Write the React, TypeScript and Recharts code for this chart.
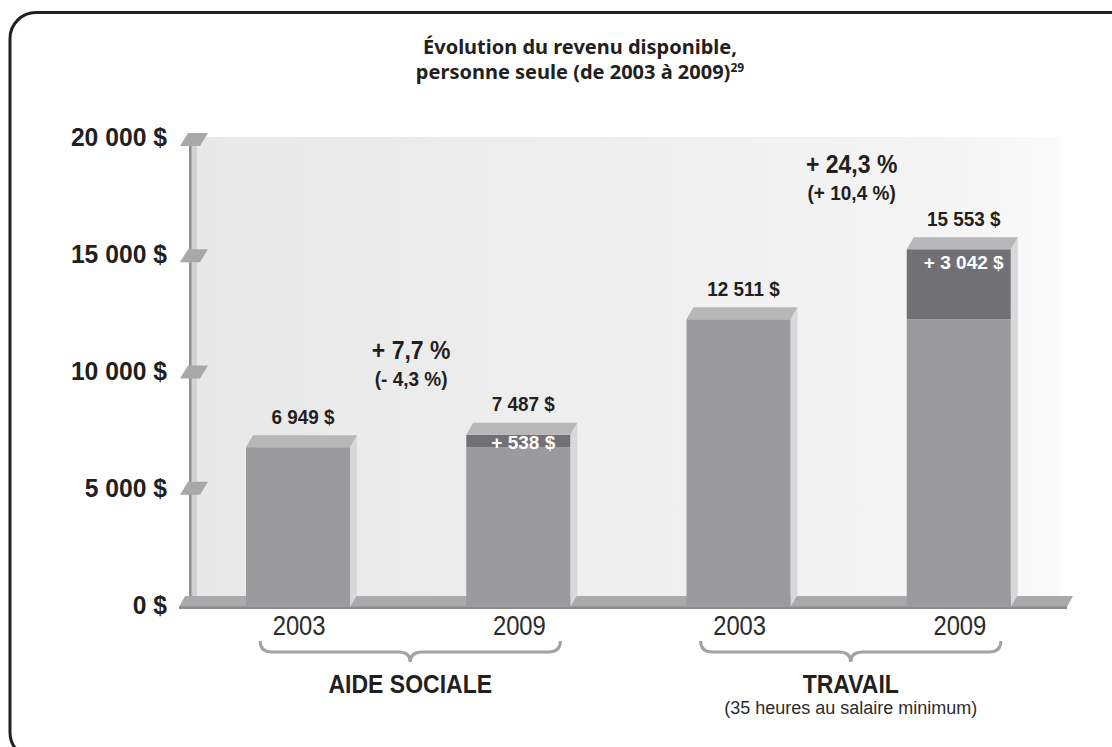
import React from "react";
import { BarChart, Bar, XAxis, YAxis, LabelList } from "recharts";

const categories = ["2003", "2009", "2003", "2009"];
const groupNames = ["AIDE SOCIALE", "TRAVAIL"];
const groupNotes = ["", "(35 heures au salaire minimum)"];
const baseValues = [6949, 6949, 12511, 12511];
const increaseValues = [0, 538, 0, 3042];
const nominalChanges = ["", "+ 7,7 %", "", "+ 24,3 %"];
const realChanges = ["", "(- 4,3 %)", "", "(+ 10,4 %)"];
const yTicks = [0, 5000, 10000, 15000, 20000];

const data = categories.map((year, i) => ({
  year,
  base: baseValues[i],
  increase: increaseValues[i],
  total: baseValues[i] + increaseValues[i],
}));

const W = 1112;
const H = 747;
const M = { top: 147, right: 43, bottom: 140, left: 188 };
const PLOT_BOTTOM = H - M.bottom;
const PLOT_H = H - M.top - M.bottom;
const BAND = (W - M.left - M.right) / categories.length;
const DX = 7;
const DY = 12;

const INK = "#231f20";
const FRONT = "#9b9b9e";
const TOP = "#b7b7b9";
const SIDE = "#d8d8da";
const DARK = "#717175";

const sans = "'Liberation Sans', Arial, sans-serif";

const fmt = (n: number) => String(n).replace(/\B(?=(\d{3})+(?!\d))/g, " ");

// Arial squeezed horizontally, stands in for the condensed face of the original
const CText = ({ x, y, sx = 0.9, children, ...rest }: any) => (
  <text transform={`translate(${x},${y}) scale(${sx},1)`} x={0} y={0} fontFamily={sans} fill={INK} {...rest}>
    {children}
  </text>
);

const Block = ({ x, y, width, height, fill, top }: any) => (
  <g>
    <polygon
      points={`${x + width},${y} ${x + width + DX},${y - DY} ${x + width + DX},${y + height - DY} ${x + width},${y + height}`}
      fill={SIDE}
    />
    <rect x={x} y={y} width={width} height={height} fill={fill} />
    {top && (
      <polygon points={`${x},${y} ${x + DX},${y - DY} ${x + width + DX},${y - DY} ${x + width},${y}`} fill={TOP} />
    )}
  </g>
);

const BaseShape = (p: any) => <Block {...p} fill={FRONT} top={p.payload.increase === 0} />;

const IncreaseShape = (p: any) => (p.payload.increase > 0 ? <Block {...p} fill={DARK} top /> : <g />);

const BarLabels = (p: any) => {
  const { x, y, width, height, index } = p;
  const d = data[index];
  const incH = (height * d.increase) / d.base;
  const topY = y - incH;
  const cx = x + width / 2 + 5;
  const labelY = topY - 31;
  return (
    <g fontWeight={700}>
      <CText x={cx} y={labelY} dy="0.36em" textAnchor="middle" fontSize={21} sx={0.9} fontWeight={700}>
        {fmt(d.total)} $
      </CText>
      {d.increase > 0 && (
        <CText
          x={cx}
          y={topY + Math.min(13, incH / 2 + 1)}
          dy="0.36em"
          textAnchor="middle"
          fontSize={19}
          sx={1}
          fontWeight={700}
          fill="#fff"
        >
          + {fmt(d.increase)} $
        </CText>
      )}
      {nominalChanges[index] && (
        <g>
          <CText x={cx - BAND / 2 - 2} y={labelY - 54} dy="0.36em" textAnchor="middle" fontSize={25} sx={0.92} fontWeight={700}>
            {nominalChanges[index]}
          </CText>
          <CText x={cx - BAND / 2 - 2} y={labelY - 25} dy="0.36em" textAnchor="middle" fontSize={20} sx={0.95} fontWeight={700}>
            {realChanges[index]}
          </CText>
        </g>
      )}
    </g>
  );
};

const YTick = (p: any) => {
  const { y, payload } = p;
  const k = (PLOT_BOTTOM - y) / PLOT_H;
  const ly = y - 2 - 8 * k;
  const my = y - 2 - 5 * k;
  const L = M.left;
  return (
    <g>
      {payload.value > 0 && (
        <polygon points={`${L - 8},${my + 6} ${L},${my - 7} ${L + 20},${my - 7} ${L + 12},${my + 6}`} fill="#a8a8aa" />
      )}
      <CText x={167} y={ly} dy="0.36em" textAnchor="end" fontWeight={700} fontSize={26} sx={0.95}>
        {fmt(payload.value)} $
      </CText>
    </g>
  );
};

const XTick = (p: any) => {
  const { x, payload, index } = p;
  const g = Math.floor(index / 2);
  const x0 = x - 38;
  const x1 = x + BAND + 42;
  const mid = (x0 + x1) / 2;
  const b = PLOT_BOTTOM;
  return (
    <g>
      <CText x={x + 1} y={b + 28} textAnchor="middle" fontSize={28} sx={0.85} fill="#2b2b2b">
        {payload.value}
      </CText>
      {index % 2 === 0 && (
        <g>
          <path
            d={`M${x0},${b + 34} Q${x0},${b + 45} ${x0 + 12},${b + 45} L${mid - 12},${b + 45} Q${mid},${b + 45} ${mid},${b + 55} Q${mid},${b + 45} ${mid + 12},${b + 45} L${x1 - 12},${b + 45} Q${x1},${b + 45} ${x1},${b + 34}`}
            fill="none"
            stroke="#a3a3a5"
            strokeWidth={3}
          />
          <CText x={mid} y={b + 86} textAnchor="middle" fontWeight={700} fontSize={25} sx={0.92}>
            {groupNames[g]}
          </CText>
          {groupNotes[g] && (
            <CText x={mid} y={b + 107} textAnchor="middle" fontSize={18} sx={1} fill="#2b2b2b">
              {groupNotes[g]}
            </CText>
          )}
        </g>
      )}
    </g>
  );
};

const Backdrop = () => {
  const L = M.left;
  const R = W - M.right;
  const floorTop = PLOT_BOTTOM - 11;
  return (
    <svg width={W} height={H} style={{ position: "absolute", left: 0, top: 0 }}>
      <defs>
        <linearGradient id="wall" x1="0" x2="1" y1="0" y2="0">
          <stop offset="0" stopColor="#e8e8e9" />
          <stop offset="0.85" stopColor="#f4f4f4" />
          <stop offset="1" stopColor="#fafafa" />
        </linearGradient>
      </defs>
      <rect x={10} y={12.5} width={1200} height={746} rx={26} fill="#fff" stroke={INK} strokeWidth={3} />
      <rect x={L + 5} y={M.top - 10} width={R - L - 14} height={floorTop - M.top + 10} fill="url(#wall)" />
      <rect x={L + 3} y={M.top - 1} width={6} height={floorTop - M.top + 1} fill="#d2d2d4" />
      <rect x={L + 1} y={M.top - 1} width={2.5} height={floorTop - M.top + 6} fill="#8f8f92" />
      <polygon
        points={`${L - 3},${floorTop} ${R + 4},${floorTop} ${R - 2},${PLOT_BOTTOM} ${L - 9},${PLOT_BOTTOM}`}
        fill="#aaaaac"
      />
      <rect x={L - 9} y={PLOT_BOTTOM - 0.5} width={R - L + 7} height={2.5} fill="#8c8c8f" />
    </svg>
  );
};

const titleLine = {
  position: "absolute" as const,
  left: 280,
  width: 600,
  textAlign: "center" as const,
  fontFamily: "'Noto Sans', 'Open Sans', sans-serif",
  fontWeight: 700,
  fontSize: 20,
  lineHeight: "24px",
  color: INK,
};

export default function App() {
  return (
    <div style={{ position: "absolute", left: 0, top: 0, width: W, height: H, background: "#fff" }}>
      <Backdrop />
      <div style={{ ...titleLine, top: 35 }}>Évolution du revenu disponible,</div>
      <div style={{ ...titleLine, top: 60 }}>
        personne seule (de 2003 à 2009)
        <sup style={{ fontSize: 12, verticalAlign: "7px", lineHeight: 0 }}>29</sup>
      </div>
      <div style={{ position: "absolute", left: 0, top: 0 }}>
        <BarChart
          width={W}
          height={H}
          data={data}
          margin={{ top: M.top, right: M.right, bottom: 0, left: 0 }}
          barSize={104}
        >
          <XAxis dataKey="year" axisLine={false} tickLine={false} tick={<XTick />} interval={0} height={M.bottom} />
          <YAxis
            type="number"
            domain={[0, 20000]}
            ticks={yTicks}
            axisLine={false}
            tickLine={false}
            width={M.left}
            tick={<YTick />}
            interval={0}
          />
          <Bar dataKey="base" stackId="a" shape={<BaseShape />} isAnimationActive={false}>
            <LabelList dataKey="total" content={<BarLabels />} />
          </Bar>
          <Bar dataKey="increase" stackId="a" shape={<IncreaseShape />} isAnimationActive={false} />
        </BarChart>
      </div>
    </div>
  );
}
